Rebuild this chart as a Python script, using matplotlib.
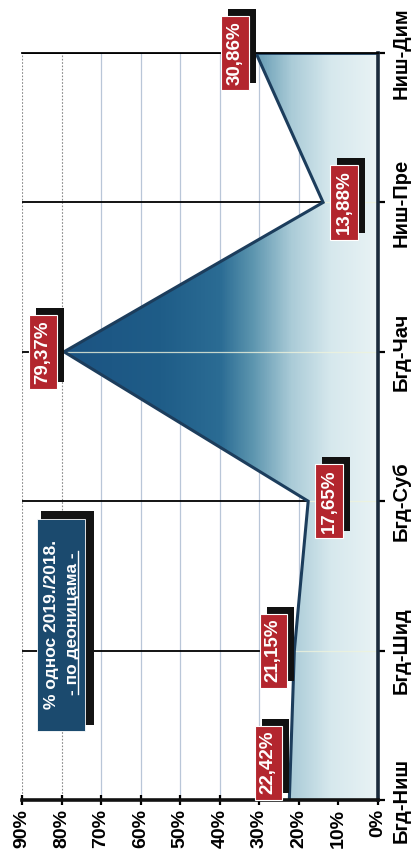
import numpy as np
import matplotlib
matplotlib.use('Agg')
import matplotlib.pyplot as plt
import matplotlib.patheffects as pe
from matplotlib.colors import LinearSegmentedColormap
from matplotlib.patches import Polygon, Rectangle
from matplotlib.transforms import offset_copy

plt.rcParams['font.family'] = ['Liberation Sans', 'DejaVu Sans']

# data
categories = ['Бгд-Ниш', 'Бгд-Шид', 'Бгд-Суб', 'Бгд-Чач', 'Ниш-Пре', 'Ниш-Дим']
values = [22.42, 21.15, 17.65, 79.37, 13.88, 30.86]
value_labels = ['22,42%', '21,15%', '17,65%', '79,37%', '13,88%', '30,86%']
label_side = [1, 1, -1, 1, -1, 1]        # 1 = toward higher %, -1 = toward 0%
value_ticks = [0, 10, 20, 30, 40, 50, 60, 70, 80, 90]
note_lines = ['% однос 2019./2018.', '- по деоницама -']

W, H = 412, 863
fig = plt.figure(figsize=(W / 100, H / 100), dpi=100)
ax = fig.add_axes([22 / W, 1 - 800 / H, 356 / W, 747 / H])

pos = np.arange(len(categories))
ax.set_xlim(90, 0)
ax.set_ylim(0, len(categories) - 1)

# value gridlines (vertical after rotation)
for v in value_ticks[1:]:
    if v >= 80:
        ax.axvline(v, color='#8a8a8a', lw=0.8, ls=(0, (1.5, 1.5)), zorder=1)
    else:
        ax.axvline(v, color='#b9c6d8', lw=0.9, zorder=1)

# category gridlines
for p in pos[1:]:
    ax.plot([90, 0], [p, p], color='black', lw=1.3, zorder=2)

# gradient area
cmap = LinearSegmentedColormap.from_list('area', [
    (0.0, '#e9f3f5'), (12 / 80, '#d6e8ed'), (22 / 80, '#aacbd7'),
    (32 / 80, '#5b94ae'), (40 / 80, '#2b6c94'), (55 / 80, '#1f5d88'),
    (1.0, '#1b5382')])
grad = np.linspace(0, 1, 400).reshape(1, -1)
img = ax.imshow(grad, extent=[0, 80, 0, len(categories) - 1], aspect='auto',
                cmap=cmap, origin='lower', zorder=3)
verts = [(0, 0)] + list(zip(values, pos)) + [(0, pos[-1])]
poly = Polygon(verts, closed=True, fc='none', ec='none', transform=ax.transData)
ax.add_patch(poly)
img.set_clip_path(poly)

# faint lines through the fill
for p in pos[1:-1]:
    ln, = ax.plot([90, 0], [p, p], color='#eef3dc', lw=0.9, alpha=0.8, zorder=4)
    ln.set_clip_path(poly)

ax.plot(values, pos, color='#1c3d5c', lw=2.2, zorder=5, solid_joinstyle='miter')
ax.plot([values[-1], 0], [pos[-1], pos[-1]], color='#1c3d5c', lw=2, zorder=5)

# spines & ticks
ax.spines['left'].set_visible(False)
ax.spines['top'].set_color('black')
ax.spines['top'].set_linewidth(1.3)
ax.spines['bottom'].set_linewidth(2.6)
ax.spines['bottom'].set_color('#111111')
ax.spines['right'].set_linewidth(2.6)
ax.spines['right'].set_color('#1a2b3c')
for s in ax.spines.values():
    s.set_zorder(6)

ax.set_xticks(value_ticks)
ax.set_xticklabels([f'{v}%' for v in value_ticks], rotation=90,
                   fontsize=14, fontweight='bold')
ax.tick_params(axis='x', direction='inout', length=7, width=1.6, pad=3)

ax.yaxis.tick_right()
ax.set_yticks(pos)
ax.set_yticklabels(categories, rotation=90, va='center', fontsize=14.5,
                   fontweight='bold')
ax.tick_params(axis='y', direction='out', length=5, width=1.6, pad=5)

# data labels with black shadow
for v, p, lab, side in zip(values, pos, value_labels, label_side):
    yy = p + 0.25 if p == 0 else p
    dx = -21 * side  # x axis is inverted: higher % goes left
    tr = offset_copy(ax.transData, fig=fig, x=dx * 0.72, y=0, units='points')
    t = ax.text(v, yy, lab, transform=tr, rotation=90, ha='center', va='center',
                fontsize=13.5, fontweight='bold', color='white', zorder=8,
                bbox=dict(boxstyle='square,pad=0.28', fc='#b3262e', ec='white', lw=0.8),
                clip_on=False)
    t.get_bbox_patch().set_path_effects([
        pe.SimplePatchShadow(offset=(5, 5), shadow_rgbFace='#111111', alpha=1),
        pe.Normal()])

# note box
fig.patches.append(Rectangle((41 / W, 1 - 725 / H), 53 / W, 214 / H,
                             transform=fig.transFigure, fc='#141414', ec='none',
                             zorder=9))
fig.patches.append(Rectangle((37 / W, 1 - 731 / H), 48 / W, 212 / H,
                             transform=fig.transFigure, fc='#1b4a6e', ec='white',
                             lw=0.6, zorder=10))
fig.text(52 / W, 1 - 624 / H, note_lines[0], rotation=90, ha='center', va='center',
         color='white', fontsize=12.5, fontweight='bold', zorder=11)
fig.text(72 / W, 1 - 624 / H, note_lines[1], rotation=90, ha='center', va='center',
         color='white', fontsize=12.5, fontweight='bold', zorder=11)
fig.lines.append(plt.Line2D([78 / W, 78 / W], [1 - 694 / H, 1 - 551 / H],
                            transform=fig.transFigure, color='white', lw=1, zorder=11))

fig.savefig('out.png', dpi=100)
